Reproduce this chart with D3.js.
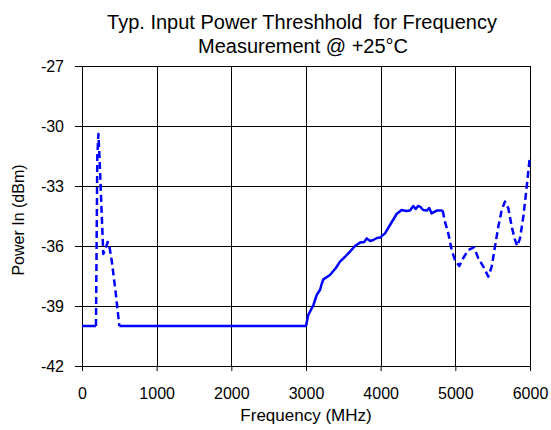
<!DOCTYPE html>
<html>
<head>
<meta charset="utf-8">
<script src="https://cdn.jsdelivr.net/npm/d3@7"></script>
<style>
  body { margin: 0; background: #fff; }
  text { font-family: "Liberation Sans", Arial, sans-serif; fill: #000; }
</style>
</head>
<body>
<div id="chart"></div>
<script>
// frequency (MHz) and measured threshold (dBm)
const freqs = [0, 187, 205, 220, 235, 260, 285, 310, 344, 370, 397, 450, 500,
  3000, 3030, 3100, 3143, 3187, 3210, 3232, 3321, 3400, 3455, 3520, 3589, 3656, 3723, 3780, 3813, 3860, 3901,
  3950, 3991, 4058, 4125, 4214, 4281, 4340, 4393, 4437, 4470, 4500, 4527, 4570, 4616, 4650, 4683, 4750, 4830,
  4861, 4906, 4951, 4995, 5053, 5107, 5174, 5250, 5308, 5375, 5442, 5487,
  5531, 5576, 5621, 5665, 5710, 5755, 5799, 5830, 5866, 5911, 5956, 5991, 6000];
const powers = [-40, -40, -31.5, -30.4, -31.6, -34, -36.4, -36.2, -35.8, -36.1, -36.7, -38.3, -40,
  -40, -39.45, -38.95, -38.45, -38.2, -37.9, -37.67, -37.45, -37.1, -36.78, -36.55, -36.28, -36.0, -35.83, -35.8, -35.62, -35.75, -35.7,
  -35.6, -35.58, -35.37, -34.95, -34.4, -34.2, -34.25, -34.23, -34.0, -34.15, -34.0, -34.03, -34.2, -34.23, -34.1, -34.37, -34.23, -34.23,
  -34.78, -35.37, -36.2, -36.7, -37.0, -36.6, -36.2, -36.07, -36.62, -37.03, -37.53, -37.03,
  -36.03, -35.03, -34.2, -33.78, -34.12, -35.03, -35.7, -36.0, -35.62, -34.53, -33.03, -31.78, -31.6];
// frequency spans drawn dashed
const dashedRanges = [[187, 500], [4830, 6000]];

const xTicks = [0, 1000, 2000, 3000, 4000, 5000, 6000];
const yTicks = [-42, -39, -36, -33, -30, -27];

const W = 551, H = 430;
const margin = { left: 82, top: 66, right: 21, bottom: 64 };
const iw = W - margin.left - margin.right;
const ih = H - margin.top - margin.bottom;

const svg = d3.select("#chart").append("svg")
  .attr("width", W)
  .attr("height", H);

const x = d3.scaleLinear().domain([0, 6000]).range([0, iw]);
const y = d3.scaleLinear().domain([-42, -27]).range([ih, 0]);

const g = svg.append("g")
  .attr("transform", "translate(" + margin.left + "," + margin.top + ")");

// grid
g.selectAll(".vgrid")
  .data(xTicks)
  .enter()
  .append("line")
  .attr("x1", d => Math.round(x(d)) + 0.5)
  .attr("x2", d => Math.round(x(d)) + 0.5)
  .attr("y1", 0)
  .attr("y2", ih)
  .attr("stroke", "#000");

g.selectAll(".hgrid")
  .data(yTicks)
  .enter()
  .append("line")
  .attr("x1", 0)
  .attr("x2", iw)
  .attr("y1", d => Math.round(y(d)) + 0.5)
  .attr("y2", d => Math.round(y(d)) + 0.5)
  .attr("stroke", "#000");

// axes (plain hyphen minus like the original)
const xAxis = g.append("g")
  .attr("transform", "translate(0," + ih + ")")
  .call(d3.axisBottom(x).tickValues(xTicks).tickSize(5).tickPadding(17).tickFormat(d => String(d)));
const yAxis = g.append("g")
  .call(d3.axisLeft(y).tickValues(yTicks).tickSize(7).tickPadding(11).tickFormat(d => String(d)));

[xAxis, yAxis].forEach(a => {
  a.select(".domain").attr("stroke", "#000");
  a.selectAll(".tick line").attr("stroke", "#000");
  a.selectAll("text")
    .style("font-size", "16px")
    .style("font-family", "Liberation Sans, Arial, sans-serif");
});

// right border
g.append("line")
  .attr("x1", iw + 0.5).attr("x2", iw + 0.5)
  .attr("y1", 0).attr("y2", ih)
  .attr("stroke", "#000");

// split line into solid / dashed pieces
function isDashed(f) {
  return dashedRanges.some(r => f >= r[0] && f <= r[1]);
}
const pts = freqs.map((f, i) => ({ f: f, p: powers[i] }));
const segments = [];
for (let i = 1; i < pts.length; i++) {
  const dashed = isDashed(pts[i - 1].f) && isDashed(pts[i].f);
  const last = segments[segments.length - 1];
  if (last && last.dashed === dashed) {
    last.points.push(pts[i]);
  } else {
    segments.push({ dashed: dashed, points: [pts[i - 1], pts[i]] });
  }
}

const line = d3.line()
  .x(d => x(d.f))
  .y(d => y(d.p));

g.selectAll(".series")
  .data(segments)
  .enter()
  .append("path")
  .attr("d", d => line(d.points))
  .attr("fill", "none")
  .attr("stroke", "#0000ff")
  .attr("stroke-width", 2.5)
  .attr("stroke-linejoin", "round")
  .attr("stroke-dasharray", d => d.dashed ? "7,4" : null);

// titles
svg.append("text")
  .attr("x", 302)
  .attr("y", 29)
  .attr("text-anchor", "middle")
  .style("font-size", "20px")
  .style("white-space", "pre")
  .text("Typ. Input Power Threshhold  for Frequency");
svg.append("text")
  .attr("x", 303)
  .attr("y", 53)
  .attr("text-anchor", "middle")
  .style("font-size", "20px")
  .text("Measurement @ +25°C");

svg.append("text")
  .attr("x", margin.left + iw / 2)
  .attr("y", 421)
  .attr("text-anchor", "middle")
  .style("font-size", "17px")
  .text("Frequency (MHz)");

svg.append("text")
  .attr("transform", "translate(24,220) rotate(-90)")
  .attr("text-anchor", "middle")
  .style("font-size", "16px")
  .text("Power In (dBm)");
</script>
</body>
</html>
